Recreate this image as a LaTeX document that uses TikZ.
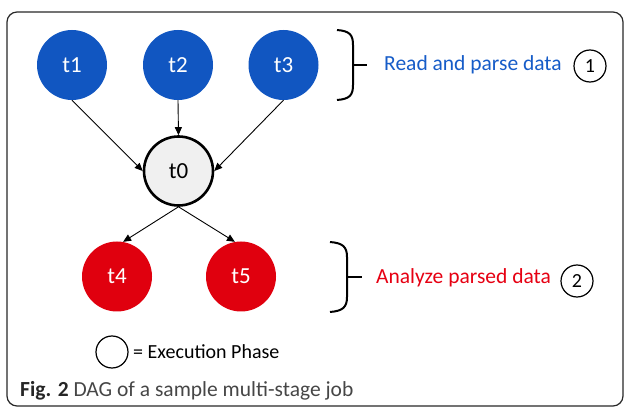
\documentclass[tikz,border=0pt]{standalone}
\usepackage{fontspec}
\setmainfont{Carlito}
\usetikzlibrary{positioning}
\usetikzlibrary{arrows.meta}
\definecolor{taskblue}{RGB}{17,86,193}
\definecolor{taskred}{RGB}{224,0,14}
\definecolor{labelblue}{RGB}{22,92,200}
\definecolor{labelred}{RGB}{230,0,18}
\definecolor{framegray}{RGB}{40,40,40}
\definecolor{capgray}{RGB}{70,70,70}

\tikzset{
  task/.style={circle, minimum size=70pt, inner sep=0pt, text=white, font=\fontsize{23}{25}\selectfont},
  flow/.style={-{Triangle[length=8pt,width=7pt]}, line width=0.9pt},
  phase/.style={circle, draw, line width=1.2pt, minimum size=32pt, inner sep=0pt, font=\fontsize{20}{22}\selectfont},
  brace/.style={line width=2pt}
}

\begin{document}
\begin{tikzpicture}[x=1pt,y=-1pt]

\useasboundingbox (0,0) rectangle (625,409);

\draw[framegray, line width=1.2pt, rounded corners=10pt] (7,12) rectangle (623,406);

% tasks
\node[task, fill=taskblue] (t1) at (72,65) {t1};
\node[task, fill=taskblue] (t2) at (178,65) {t2};
\node[task, fill=taskblue] (t3) at (283.5,65) {t3};

\node[task, fill=black!6, draw=black, line width=2.6pt, text=black, minimum size=69pt] (t0) at (178.5,171) {t0};

\node[task, fill=taskred] (t4) at (117,276.5) {t4};
\node[task, fill=taskred] (t5) at (241,276.5) {t5};

% arrows
\draw[flow] (t1.south) -- (t0.west);
\draw[flow] (t2.south) -- (t0.north);
\draw[flow] (t3.south) -- (t0.east);

\draw[flow] (t0.south) -- (t4.80);
\draw[flow] (t0.south) -- (t5.100);

% braces
{
\draw[brace] (337,30) .. controls (350,31) and (353,35) .. (353,45) -- (353,85) .. controls (353,95) and (350,99) .. (337,100);
\draw[brace] (353,65) -- ++(14,0);

\draw[brace] (330,242) .. controls (343,243) and (347,247) .. (347,257) -- (347,297) .. controls (347,307) and (343,311) .. (330,312);
\draw[brace] (347,277) -- ++(15,0);
}

\node[anchor=west, text=labelblue, font=\fontsize{21.5}{24}\selectfont, inner sep=0pt] (read) at (384,65) {Read and parse data};
\node[phase] (p1) at (590,66) {1};

\node[anchor=west, text=labelred, font=\fontsize{21.5}{24}\selectfont, inner sep=0pt] (analyze) at (376,278) {Analyze parsed data};
\node[phase] (p2) at (577,281) {2};

% legend
\node[circle, draw, line width=1.2pt, minimum size=32pt, inner sep=0pt] (legend) at (112,352) {};
\node[anchor=west, font=\fontsize{20}{22}\selectfont, inner sep=0pt] (legtext) at (133,352) {= Execution Phase};

\node[anchor=west, text=capgray, font=\fontsize{21.5}{24}\selectfont, inner sep=0pt] (caption) at (20,391) {\textbf{\color{black!85}Fig. 2} DAG of a sample multi-stage job};

\end{tikzpicture}
\end{document}
